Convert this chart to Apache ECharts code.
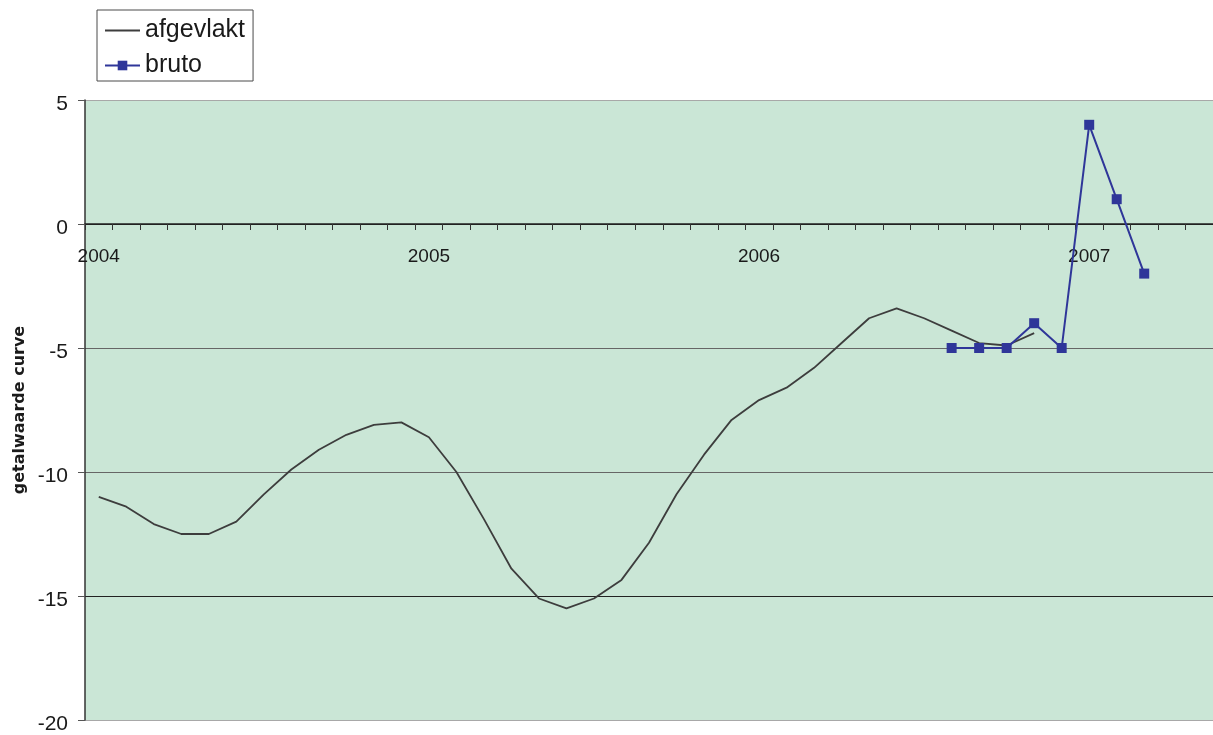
<!DOCTYPE html>
<html>
<head>
<meta charset="utf-8">
<script src="https://cdn.jsdelivr.net/npm/echarts@6/dist/echarts.min.js"></script>
<style>
  html, body { margin: 0; padding: 0; background: #fff; }
  #chart { width: 1213px; height: 735px; }
</style>
</head>
<body>
<div id="chart"></div>
<script>
// monthly categories jan 2004 .. may 2007
const years = ['2004', '2005', '2006', '2007']
const months = []
years.forEach(y => {
  for (let m = 1; m <= 12; m++) {
    months.push(y + '-' + (m < 10 ? '0' + m : m))
  }
})
const categories = months.slice(0, 41)

const afgevlakt = [
  -11.0, -11.4, -12.1, -12.5, -12.5, -12.0, -10.9, -9.9, -9.1, -8.5, -8.1, -8.0,
  -8.6, -10.0, -11.9, -13.9, -15.1, -15.5, -15.1, -14.35, -12.85, -10.9, -9.3, -7.9,
  -7.1, -6.6, -5.8, -4.8, -3.8, -3.4, -3.8, -4.3, -4.8, -4.9, -4.4
]
const bruto = [
  null, null, null, null, null, null, null, null, null, null, null, null,
  null, null, null, null, null, null, null, null, null, null, null, null,
  null, null, null, null, null, null, null, -5, -5, -5, -4, -5,
  4, 1, -2
]
const yTicks = [-20, -15, -10, -5, 0, 5]

// plot box
const gridTop = 100
const gridBottom = 15
const plotH = 735 - gridTop - gridBottom
// x axis sits on the zero line: shift it up from the bottom of the plot
const zeroOffset = -plotH * (0 - yTicks[0]) / (yTicks[yTicks.length - 1] - yTicks[0])

const chart = echarts.init(document.getElementById('chart'))
chart.setOption({
  backgroundColor: '#ffffff',
  animation: false,
  textStyle: {
    fontFamily: 'Liberation Sans, Arial, sans-serif'
  },
  legend: {
    left: 97,
    top: 10,
    orient: 'vertical',
    padding: [8, 8, 3, 7],
    itemGap: 10,
    itemWidth: 35,
    itemHeight: 12,
    borderColor: '#4a4a4a',
    borderWidth: 1,
    backgroundColor: '#ffffff',
    textStyle: {
      fontSize: 25,
      color: '#1a1a1a',
      fontFamily: 'Liberation Sans, Arial, sans-serif'
    },
    data: [
      { name: 'afgevlakt', itemStyle: { opacity: 0 } },
      { name: 'bruto' }
    ]
  },
  grid: {
    left: 85,
    right: 0,
    top: gridTop,
    bottom: gridBottom,
    outerBoundsMode: 'none',
    containLabel: false,
    show: true,
    backgroundColor: '#cae6d6',
    borderWidth: 0
  },
  xAxis: {
    type: 'category',
    data: categories,
    boundaryGap: true,
    offset: zeroOffset,
    axisLine: {
      onZero: false,
      lineStyle: { color: '#222', width: 1.5 }
    },
    axisTick: {
      show: true,
      interval: 0,
      length: 6,
      lineStyle: { color: '#333' }
    },
    axisLabel: {
      interval: (i, v) => v.slice(5) === '01',
      formatter: v => v.slice(0, 4),
      fontSize: 19,
      margin: 23,
      color: '#1a1a1a'
    },
    splitLine: { show: false }
  },
  yAxis: {
    type: 'value',
    min: yTicks[0],
    max: yTicks[yTicks.length - 1],
    interval: 5,
    name: 'getalwaarde curve',
    nameLocation: 'middle',
    nameGap: 57,
    nameMoveOverlap: false,
    nameTextStyle: {
      fontSize: 16,
      fontWeight: 'bold',
      color: '#1a1a1a',
      fontFamily: 'DejaVu Sans, sans-serif'
    },
    axisLine: {
      show: true,
      lineStyle: { color: '#333', width: 1.5 }
    },
    axisTick: {
      show: true,
      length: 7,
      lineStyle: { color: '#555' }
    },
    axisLabel: {
      margin: 17,
      formatter: v => '{n|' + v + '}',
      rich: {
        n: {
          fontSize: 21,
          color: '#1a1a1a',
          padding: [8, 0, 0, 0]
        }
      }
    },
    splitLine: {
      show: true,
      lineStyle: {
        color: ['#a8a8a8', '#222', '#666', '#666', '#222', '#a8a8a8'],
        width: 1.2
      }
    }
  },
  series: [
    {
      name: 'afgevlakt',
      type: 'line',
      data: afgevlakt,
      symbol: 'none',
      color: '#3d3d3d',
      lineStyle: { color: '#3d3d3d', width: 1.8 }
    },
    {
      name: 'bruto',
      type: 'line',
      data: bruto,
      symbol: 'rect',
      symbolSize: 10,
      showAllSymbol: true,
      color: '#2f3699',
      lineStyle: { color: '#2f3699', width: 2 },
      itemStyle: { color: '#2f3699' }
    }
  ]
})
</script>
</body>
</html>
